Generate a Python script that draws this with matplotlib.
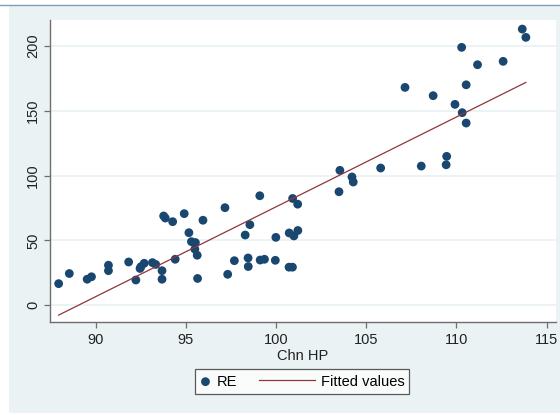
import numpy as np
import matplotlib
matplotlib.use("Agg")
import matplotlib.pyplot as plt
from matplotlib.patches import Rectangle
from matplotlib.lines import Line2D
from matplotlib.legend_handler import HandlerLine2D

plt.rcParams['font.family'] = ['Liberation Sans', 'DejaVu Sans']

# Chn HP (x) and RE (y)
chn_hp = [87.95, 88.54, 89.53, 89.77, 90.71, 90.71, 91.83, 92.23, 92.46, 92.51,
          92.69, 93.15, 93.33, 93.68, 93.68, 93.77, 93.86, 94.27, 94.41, 94.91,
          95.17, 95.31, 95.53, 95.50, 95.63, 95.65, 95.95, 97.17, 97.32, 97.69,
          98.29, 98.55, 98.45, 98.46, 99.10, 99.12, 99.36, 99.96, 99.99, 100.73,
          100.99, 101.21, 100.72, 100.91, 100.92, 101.20, 103.49, 103.54, 104.21, 104.28,
          105.80, 107.15, 108.05, 108.71, 109.46, 109.43, 109.92, 110.32, 110.29, 110.54,
          110.54, 111.17, 112.59, 113.65, 113.85]
re = [16.7, 24.5, 20.1, 22.0, 26.7, 30.9, 33.4, 19.5, 28.4, 29.8,
      32.4, 32.9, 31.5, 26.7, 20.1, 68.9, 67.3, 64.5, 35.5, 70.7,
      56.0, 49.1, 48.4, 43.3, 38.6, 20.7, 65.6, 75.3, 23.9, 34.4,
      54.2, 62.2, 36.5, 29.9, 84.5, 34.9, 35.5, 34.7, 52.4, 55.8,
      53.5, 57.7, 29.4, 29.4, 82.4, 78.0, 87.6, 104.1, 99.0, 95.1,
      105.9, 168.1, 107.4, 161.7, 114.9, 108.4, 155.0, 148.6, 199.0, 170.1,
      140.6, 185.6, 188.2, 213.1, 206.7]

x_ticks = [90, 95, 100, 105, 110, 115]
y_ticks = [0, 50, 100, 150, 200]

navy = '#1a476f'
maroon = '#90353b'
bg = '#eaf2f3'
axis_gray = '#6e6e6e'


# legend line that reaches further left than the (short) handle box
class LongLineHandler(HandlerLine2D):
    def __init__(self, extra, **kw):
        super().__init__(**kw)
        self.extra = extra

    def get_xdata(self, legend, xdescent, ydescent, width, height, fontsize):
        xd = np.array([-xdescent - self.extra, -xdescent + width])
        return xd, np.array([-xdescent + width / 2])


W, H = 560, 415
fig = plt.figure(figsize=(W / 100, H / 100), dpi=100, facecolor='white')

# outer Stata-like background panel
fig.patches.append(Rectangle((9 / W, 1 - 413 / H), 1 - 9 / W, (413 - 5) / H,
                             transform=fig.transFigure, facecolor=bg,
                             edgecolor='none', zorder=-5))
fig.lines.append(Line2D([0, 1], [1 - 5 / H, 1 - 5 / H], transform=fig.transFigure,
                        color='#7f9fb8', linewidth=1.0, zorder=-4))

ax = fig.add_axes([50 / W, 1 - 322 / H, (556 - 50) / W, (322 - 20) / H])
ax.set_zorder(1)
ax.set_facecolor('white')

x = np.array(chn_hp)
y = np.array(re)
b, a = np.polyfit(x, y, 1)
xs = np.array([x.min(), x.max()])

pts = ax.scatter(x, y, s=40, color=navy, edgecolors='none', zorder=3)
fit, = ax.plot(xs, a + b * xs, color=maroon, linewidth=0.9, zorder=4)

ax.set_xlim(87.47, 115.52)
ax.set_ylim(-12.9, 220.1)
ax.set_xticks(x_ticks)
ax.set_yticks(y_ticks)
ax.yaxis.grid(True, color=bg, linewidth=1.3, zorder=0)
ax.set_axisbelow(True)

for side in ['top', 'right']:
    ax.spines[side].set_visible(False)
for side in ['left', 'bottom']:
    ax.spines[side].set_color(axis_gray)
    ax.spines[side].set_linewidth(1.0)

ax.tick_params(axis='both', direction='out', length=4, width=0.9, color=axis_gray,
               labelsize=10.5, labelcolor='#222222')
ax.tick_params(axis='x', pad=4)
ax.tick_params(axis='y', pad=3)
for lbl in ax.get_yticklabels():
    lbl.set_rotation(90)
    lbl.set_va('center')

ax.set_xlabel('Chn HP', fontsize=10.5, color='#222222', labelpad=1)

leg = fig.legend([pts, fit], ['RE', 'Fitted values'], loc='center',
                 bbox_to_anchor=(302 / W, 1 - 381.5 / H), ncol=2, fontsize=10.5,
                 frameon=True, fancybox=False, handlelength=0.8, handletextpad=0.4,
                 columnspacing=4.5, borderpad=0.35, scatterpoints=1,
                 handler_map={fit: LongLineHandler(31.5)})
leg.get_frame().set_edgecolor('#333333')
leg.get_frame().set_linewidth(0.9)
leg.get_frame().set_facecolor('white')
leg.set_zorder(5)

fig.savefig('out.png', dpi=100, facecolor=fig.get_facecolor())
